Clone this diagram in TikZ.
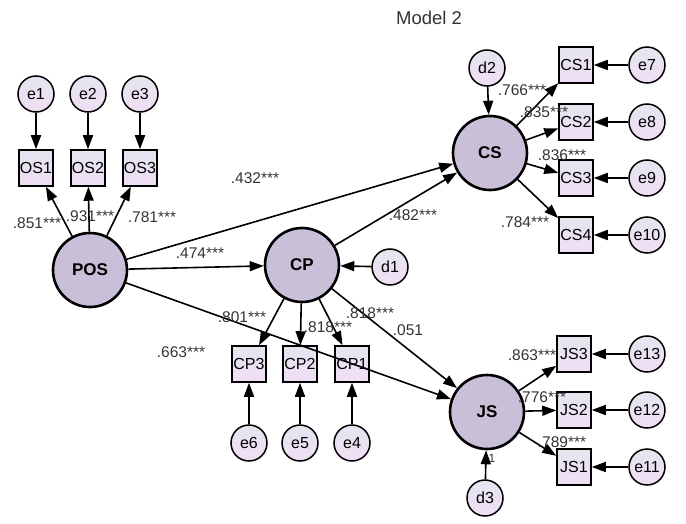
\documentclass[tikz,border=0pt]{standalone}
\usepackage{fontspec}
\setmainfont{Liberation Sans}
\usetikzlibrary{arrows.meta,positioning}
\definecolor{latfill}{HTML}{C9BFD9}
\definecolor{errtop}{HTML}{E4E5EE}
\definecolor{errbot}{HTML}{F0DEF5}
\definecolor{inkgray}{HTML}{333333}

\begin{document}
\begin{tikzpicture}[
  x=1pt, y=-1pt,
  latent/.style={draw, circle, line width=2.6pt, fill=latfill, minimum size=74pt, inner sep=0pt, font=\fontsize{17}{19}\selectfont\bfseries},
  obs/.style={draw, rectangle, line width=1.5pt, top color=errtop, bottom color=errbot, minimum width=34pt, minimum height=36pt, inner sep=0pt, font=\fontsize{16}{18}\selectfont},
  err/.style={draw, circle, line width=1.5pt, top color=errtop, bottom color=errbot, minimum size=36pt, inner sep=0pt, font=\fontsize{16}{18}\selectfont},
  reg/.style={-{Triangle[length=14pt,width=10pt]}, line width=1.6pt},
  lab/.style={font=\fontsize{15.5}{17}\selectfont, text=inkgray, inner sep=0pt}
]
\useasboundingbox (0,0) rectangle (686,524);
\node[font=\fontsize{18.5}{20}\selectfont, text=inkgray] (title) at (429,18) {Model 2};
% latent variables
\node[latent] (POS) at (90,270) {POS};
\node[latent] (CP) at (302,265) {CP};
\node[latent] (CS) at (490,153) {CS};
\node[latent] (JS) at (487,412) {JS};
\node[err] (d1) at (390,267) {d1};
\node[err] (d2) at (487,68) {d2};
\node[err] (d3) at (485,498) {d3};
% measurement parts
\foreach \i/\x in {1/36,2/88,3/140}{
  \node[obs] (OS\i) at (\x,168) {OS\i};
  \node[err] (e\i) at (\x,94) {e\i};
  \draw[reg] (e\i) -- (OS\i);
  \draw[reg] (POS) -- (OS\i);
}
\foreach \i/\x/\e in {3/249/6,2/300/5,1/352/4}{
  \node[obs] (CP\i) at (\x,364) {CP\i};
  \node[err] (e\e) at (\x,443) {e\e};
  \draw[reg] (e\e) -- (CP\i);
  \draw[reg] (CP) -- (CP\i);
}
\foreach \i/\y/\e in {1/65/7,2/122/8,3/178/9,4/235/10}{
  \node[obs] (CS\i) at (576,\y) {CS\i};
  \node[err] (e\e) at (647,\y) {e\e};
  \draw[reg] (e\e) -- (CS\i);
  \draw[reg] (CS) -- (CS\i);
}
\foreach \i/\y/\e in {3/354/13,2/410/12,1/467/11}{
  \node[obs] (JS\i) at (574,\y) {JS\i};
  \node[err] (e\e) at (647,\y) {e\e};
  \draw[reg] (e\e) -- (JS\i);
  \draw[reg] (JS) -- (JS\i);
}
% structural paths
\draw[reg] (POS) -- (CS);
\draw[reg] (POS) -- (CP);
\draw[reg] (POS) -- (JS);
\draw[reg] (CP) -- (CS);
\draw[reg] (CP) -- (JS);
\draw[reg] (d1) -- (CP);
\draw[reg] (d2) -- (CS);
\draw[reg] (d3) -- (JS);
% estimates
\node[lab] (l851) at (37,223) {.851***};
\node[lab] (l931) at (90,216) {.931***};
\node[lab] (l781) at (152,217) {.781***};
\node[lab] (l432) at (255,178) {.432***};
\node[lab] (l474) at (200,253) {.474***};
\node[lab] (l482) at (413,215) {.482***};
\node[lab] (l801) at (242,317) {.801***};
\node[lab] (l818a) at (328,327) {.818***};
\node[lab] (l818b) at (370,313) {.818***};
\node[lab] (l051) at (408,330) {.051};
\node[lab] (l663) at (181,352) {.663***};
\node[lab] (l766) at (522,90) {.766***};
\node[lab] (l835) at (544,112) {.835***};
\node[lab] (l836) at (562,155) {.836***};
\node[lab] (l784) at (525,222) {.784***};
\node[lab] (l863) at (532,355) {.863***};
\node[lab] (l776) at (542,397) {.776***};
\node[lab] (l789) at (562,442) {.789***};
\node[lab, font=\fontsize{12}{14}\selectfont] (lone) at (492,458) {1};
\end{tikzpicture}
\end{document}
